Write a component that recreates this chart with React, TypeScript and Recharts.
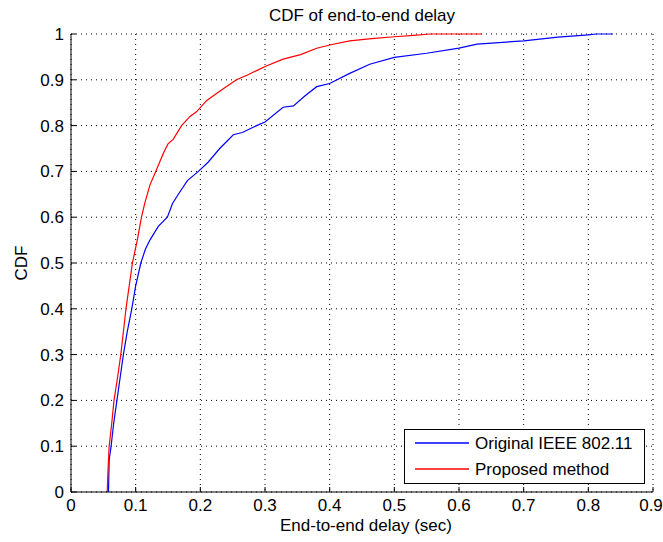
import React from 'react';
import { LineChart, Line, XAxis, YAxis, CartesianGrid, Legend } from 'recharts';

const FONT = '"Liberation Sans", Arial, Helvetica, sans-serif';

// Delay values (sec) and CDF readings
const originalDelay = [
    0.058, 0.059, 0.062, 0.066, 0.071, 0.076, 0.081, 0.087, 0.094, 0.1, 0.108, 0.115, 0.122, 0.135,
    0.149, 0.157, 0.166, 0.18, 0.197, 0.212, 0.23, 0.251, 0.265, 0.287, 0.3, 0.328, 0.344, 0.362,
    0.38, 0.4, 0.431, 0.462, 0.5, 0.55, 0.6, 0.628, 0.7, 0.753, 0.8, 0.812, 0.838,
];
const originalCdf = [
    0, 0.07, 0.1, 0.15, 0.2, 0.25, 0.3, 0.35, 0.4, 0.45, 0.5, 0.53, 0.55, 0.58, 0.6, 0.63, 0.65,
    0.68, 0.7, 0.72, 0.75, 0.78, 0.785, 0.8, 0.808, 0.84, 0.843, 0.865, 0.885, 0.892, 0.914, 0.934,
    0.949, 0.958, 0.969, 0.978, 0.985, 0.993, 0.998, 1.0, 1.0,
];

const proposedDelay = [
    0.056, 0.057, 0.059, 0.063, 0.0665, 0.072, 0.077, 0.081, 0.085, 0.09, 0.095, 0.1025, 0.109,
    0.114, 0.122, 0.131, 0.137, 0.143, 0.15, 0.158, 0.171, 0.184, 0.194, 0.21, 0.225, 0.24, 0.256,
    0.272, 0.287, 0.302, 0.328, 0.355, 0.38, 0.4, 0.431, 0.465, 0.5, 0.53, 0.555, 0.635,
];
const proposedCdf = [
    0, 0.04, 0.1, 0.15, 0.2, 0.25, 0.3, 0.35, 0.4, 0.45, 0.5, 0.55, 0.6, 0.63, 0.67, 0.7, 0.72,
    0.74, 0.76, 0.77, 0.8, 0.82, 0.83, 0.855, 0.87, 0.885, 0.9, 0.91, 0.92, 0.93, 0.945, 0.955,
    0.969, 0.976, 0.985, 0.99, 0.994, 0.997, 1.0, 1.0,
];

const xTicks = [0, 0.1, 0.2, 0.3, 0.4, 0.5, 0.6, 0.7, 0.8, 0.9];
const yTicks = [0, 0.1, 0.2, 0.3, 0.4, 0.5, 0.6, 0.7, 0.8, 0.9, 1];

const seriesNames = ['Original IEEE 802.11', 'Proposed method'];
const seriesColors = ['#0000ff', '#ff0000'];

const toRows = (xs: number[], ys: number[]) => xs.map((d, i) => ({ delay: d, cdf: ys[i] }));
const originalData = toRows(originalDelay, originalCdf);
const proposedData = toRows(proposedDelay, proposedCdf);

const W = 663;
const H = 542;
// plot box: left 71, top 34, right 653, bottom 492
const Y_AXIS_W = 60;
const X_AXIS_H = 40;
const margin = { top: 34, right: 10, bottom: 50 - X_AXIS_H, left: 71 - Y_AXIS_W };
const plotCx = 71 + (653 - 71) / 2;
const plotCy = 34 + (492 - 34) / 2;

function XTick({ x, y, payload }: any) {
    // last label sits on the window edge, keep it inside
    const tx = Math.min(x, W - 12);
    return (
        <g>
            <line x1={x} y1={y} x2={x} y2={y - 5} stroke="#000" />
            <text x={tx} y={y + 19} textAnchor="middle" fontSize={17} fontFamily={FONT} fill="#000">
                {String(payload.value)}
            </text>
        </g>
    );
}

function YTick({ x, y, payload }: any) {
    return (
        <g>
            <line x1={x} y1={y} x2={x + 5} y2={y} stroke="#000" />
            <text x={x - 7} y={y + 6} textAnchor="end" fontSize={17} fontFamily={FONT} fill="#000">
                {String(payload.value)}
            </text>
        </g>
    );
}

function LegendBox({ payload }: any) {
    const items = payload || [];
    return (
        <svg width={241} height={55} style={{ display: 'block' }}>
            <rect x={0.5} y={0.5} width={240} height={54} fill="#fff" stroke="#000" />
            {items.map((item: any, i: number) => {
                const idx = seriesNames.indexOf(item.value);
                const color = idx >= 0 ? seriesColors[idx] : item.color;
                const cy = 14 + i * 26;
                return (
                    <g key={item.value}>
                        <line x1={11} y1={cy} x2={65} y2={cy} stroke={color} strokeWidth={1.5} />
                        <text x={71} y={cy + 6} fontSize={17} fontFamily={FONT} fill="#000">
                            {item.value}
                        </text>
                    </g>
                );
            })}
        </svg>
    );
}

export default function App() {
    return (
        <div style={{ position: 'absolute', left: 0, top: 0, width: W, height: H, background: '#fff' }}>
            <LineChart width={W} height={H} margin={margin}>
                <CartesianGrid stroke="#000" strokeDasharray="1 4" strokeWidth={1} />
                <XAxis
                    type="number"
                    dataKey="delay"
                    domain={[0, 0.9]}
                    ticks={xTicks}
                    height={X_AXIS_H}
                    tickSize={0}
                    tickMargin={0}
                    tickLine={false}
                    axisLine={{ stroke: '#000' }}
                    tick={(p: any) => <XTick {...p} />}
                    interval={0}
                    allowDataOverflow
                />
                <YAxis
                    type="number"
                    dataKey="cdf"
                    domain={[0, 1]}
                    ticks={yTicks}
                    width={Y_AXIS_W}
                    tickSize={0}
                    tickMargin={0}
                    tickLine={false}
                    axisLine={{ stroke: '#000' }}
                    tick={(p: any) => <YTick {...p} />}
                    interval={0}
                />
                <Legend
                    layout="vertical"
                    align="center"
                    verticalAlign="middle"
                    content={(p: any) => <LegendBox {...p} />}
                    wrapperStyle={{ left: 404, top: 429, width: 241, height: 55 }}
                />
                <Line
                    data={originalData}
                    dataKey="cdf"
                    name={seriesNames[0]}
                    type="linear"
                    stroke={seriesColors[0]}
                    strokeWidth={1.2}
                    dot={false}
                    activeDot={false}
                    isAnimationActive={false}
                />
                <Line
                    data={proposedData}
                    dataKey="cdf"
                    name={seriesNames[1]}
                    type="linear"
                    stroke={seriesColors[1]}
                    strokeWidth={1.2}
                    dot={false}
                    activeDot={false}
                    isAnimationActive={false}
                />
            </LineChart>
            <svg
                width={W}
                height={H}
                style={{ position: 'absolute', left: 0, top: 0, pointerEvents: 'none' }}
                fontFamily={FONT}
                fontSize={17}
            >
                <text x={plotCx} y={21} textAnchor="middle" fill="#000">
                    CDF of end-to-end delay
                </text>
                <text x={plotCx + 4} y={531} textAnchor="middle" fill="#000">
                    End-to-end delay (sec)
                </text>
                <text x={27} y={plotCy} textAnchor="middle" fill="#000" transform={`rotate(-90 27 ${plotCy})`}>
                    CDF
                </text>
            </svg>
        </div>
    );
}
